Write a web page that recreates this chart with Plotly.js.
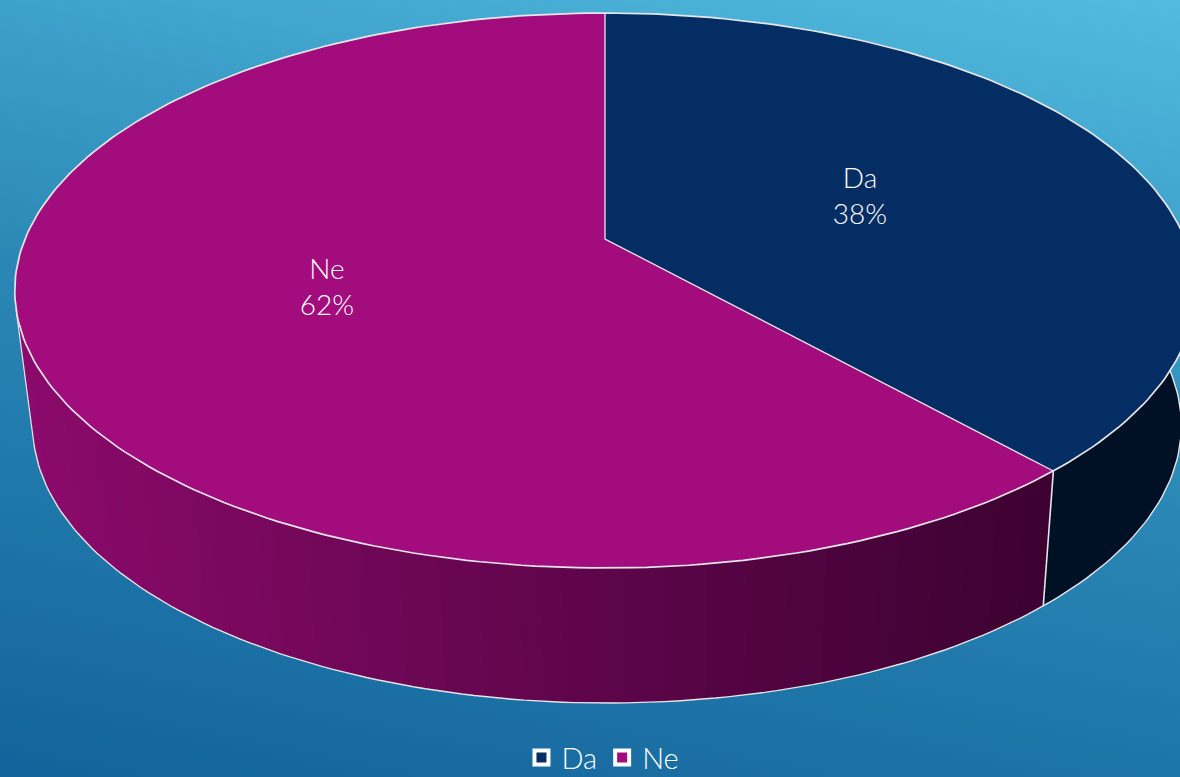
<!DOCTYPE html>
<html><head><meta charset="utf-8">
<script src="https://cdn.plot.ly/plotly-3.0.1.min.js"></script>
<style>
html,body{margin:0;padding:0;width:1180px;height:777px;overflow:hidden}
body{background:linear-gradient(12deg,#12639b 0%,#2a87b5 50%,#52bbdf 100%)}
#c{width:1180px;height:777px}
</style></head><body><div id="c"></div>
<script>
const categories = ['Da', 'Ne'];
const values = [38.4, 61.6];
const sliceColors = ['#042e63', '#a20c7c'];
const sideColorDa = '#001126';
const sideLight = [140, 10, 108], sideDark = [62, 2, 50];
const edge = '#e6e6ea';

// projection of the tilted disc
const cx = 605, apexY = 239, rad = 580, persp = 0.1856, tiltB = 223.6;
const rimScale = 0.973, depth = 135, rimShift = 2;
const total = values.reduce((a, b) => a + b, 0);
const frac1 = values[0] / total;

function topPt(f) {
  const t = f * 2 * Math.PI, u = Math.sin(t), v = Math.cos(t), d = 1 + persp * v;
  return [cx + rad * u / d, (apexY - tiltB * v) / d];
}
function rimPt(f) { const p = topPt(f); return [cx + rimShift + (p[0] - cx) * rimScale, p[1] + depth]; }
function steps(a, b, n) { const o = []; for (let i = 0; i <= n; i++) o.push(a + (b - a) * i / n); return o; }
function poly(pts) { return {x: pts.map(p => p[0]), y: pts.map(p => p[1])}; }
function fillTrace(pts, color) {
  return Object.assign(poly(pts), {type: 'scatter', mode: 'none', fill: 'toself', fillcolor: color,
    hoverinfo: 'skip', showlegend: false});
}
function lineTrace(pts, w) {
  return Object.assign(poly(pts), {type: 'scatter', mode: 'lines', line: {color: edge, width: w},
    hoverinfo: 'skip', showlegend: false});
}

const traces = [];
const leftEnd = 0.71, rightEnd = 0.24;

// side walls
const daFs = steps(rightEnd, frac1, 40);
traces.push(fillTrace(daFs.map(topPt).concat(daFs.slice().reverse().map(rimPt)), sideColorDa));
const nStrips = 70;
const neFs = steps(frac1, leftEnd, nStrips);
for (let i = nStrips - 1; i >= 0; i--) {
  const x0 = rimPt(neFs[i])[0], xA = rimPt(frac1)[0], xB = rimPt(leftEnd)[0];
  const s = (x0 - xA) / (xB - xA);
  const c = sideDark.map((d, j) => Math.round(d + (sideLight[j] - d) * s));
  const fs = steps(neFs[i], neFs[Math.min(i + 2, nStrips)], 4);
  traces.push(fillTrace(fs.map(topPt).concat(fs.slice().reverse().map(rimPt)), 'rgb(' + c.join(',') + ')'));
}
// side outlines
traces.push(lineTrace(steps(rightEnd, leftEnd, 160).map(rimPt), 1.4));
traces.push(lineTrace([topPt(frac1), rimPt(frac1)], 1.6));
traces.push(lineTrace([topPt(leftEnd), rimPt(leftEnd)], 1.2));

// top slices
const apex = [cx, apexY];
const fs1 = steps(0, frac1, 120), fs2 = steps(frac1, 1, 200);
traces.push(fillTrace([apex].concat(fs1.map(topPt), [apex]), sliceColors[0]));
traces.push(fillTrace([apex].concat(fs2.map(topPt), [apex]), sliceColors[1]));
traces.push(lineTrace([topPt(0), apex, topPt(frac1)], 1.3));
traces.push(lineTrace(steps(0, 1, 320).map(topPt), 1.7));

// data labels
const labelX = [860, 327], labelY = [199, 290];
traces.push({type: 'scatter', mode: 'text', x: labelX, y: labelY,
  text: categories.map((c, i) => c + '<br>' + Math.round(values[i]) + '%'),
  textfont: {family: 'Lato, sans-serif', weight: 300, size: 28, color: '#fff'},
  textposition: 'middle center', hoverinfo: 'skip', showlegend: false});

// legend keys
categories.forEach((c, i) => traces.push({type: 'scatter', mode: 'markers', name: c,
  x: [null], y: [null],
  marker: {symbol: 'square', size: 14, color: sliceColors[i], line: {color: '#fff', width: 4}},
  hoverinfo: 'skip', showlegend: true}));

const hidden = {visible: false, fixedrange: true};
Plotly.newPlot('c', traces, {
  width: 1180, height: 777,
  margin: {l: 0, r: 0, t: 0, b: 0, autoexpand: false},
  paper_bgcolor: 'rgba(0,0,0,0)', plot_bgcolor: 'rgba(0,0,0,0)',
  xaxis: Object.assign({range: [0, 1180]}, hidden),
  yaxis: Object.assign({range: [777, 0]}, hidden),
  showlegend: true,
  legend: {orientation: 'h', x: 0.511, xanchor: 'center', y: -0.008, yanchor: 'bottom',
    font: {family: 'Lato, sans-serif', weight: 300, size: 29, color: '#fff'}, bgcolor: 'rgba(0,0,0,0)', itemwidth: 30}
}, {displayModeBar: false, staticPlot: true});
</script></body></html>
